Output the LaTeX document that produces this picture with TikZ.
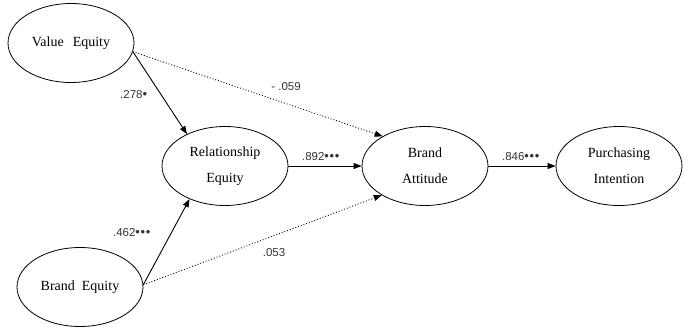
\documentclass[tikz,border=0pt]{standalone}
\usepackage{fontspec}
\setmainfont{Liberation Serif}
\newfontfamily\lblfont{Liberation Sans}
\usetikzlibrary{shapes.geometric,arrows.meta}
\newcommand{\mybul}{{\fontsize{13}{13}\selectfont•\kern0.6pt}}
\begin{document}
\begin{tikzpicture}[x=1pt,y=-1pt,
  latent/.style={draw=black,line width=0.8pt,ellipse,minimum width=126pt,minimum height=79pt,inner sep=0pt,
    align=center,font=\fontsize{14}{26}\selectfont},
  path1/.style={line width=0.9pt,-{Triangle[length=8pt,width=6pt]}},
  path2/.style={line width=0.9pt,dotted,-{Triangle[length=8pt,width=6pt]}},
  coef/.style={font=\lblfont\fontsize{11.5}{13}\selectfont,inner sep=0pt,text=black!80}]
\useasboundingbox (0,0) rectangle (688,329);
\node[latent] (ve) at (71,43) {Value\hspace{9pt}Equity};
\node[latent] (re) at (225,166) {Relationship\\Equity};
\node[latent] (be) at (80,287) {Brand\hspace{7pt}Equity};
\node[latent] (ba) at (425,166) {Brand\\Attitude};
\node[latent] (pi) at (619,166) {Purchasing\\Intention};
\draw[path1] (ve.-8) -- (re.140);
\draw[path1] (be.2) -- (re.-137);
\draw[path2] (ve.-8) -- (ba.145);
\draw[path2] (be.2) -- (ba.-146);
\draw[path1] (re.east) -- (ba.west);
\draw[path1] (ba.east) -- (pi.west);
\node[coef] (c1) at (134,95) {.278\mybul};
\node[coef] (c2) at (286,87) {- .059};
\node[coef] (c3) at (321,157) {.892\mybul\mybul\mybul};
\node[coef] (c4) at (132,233) {.462\mybul\mybul\mybul};
\node[coef] (c5) at (274,253) {.053};
\node[coef] (c6) at (521,157) {.846\mybul\mybul\mybul};
\end{tikzpicture}
\end{document}
